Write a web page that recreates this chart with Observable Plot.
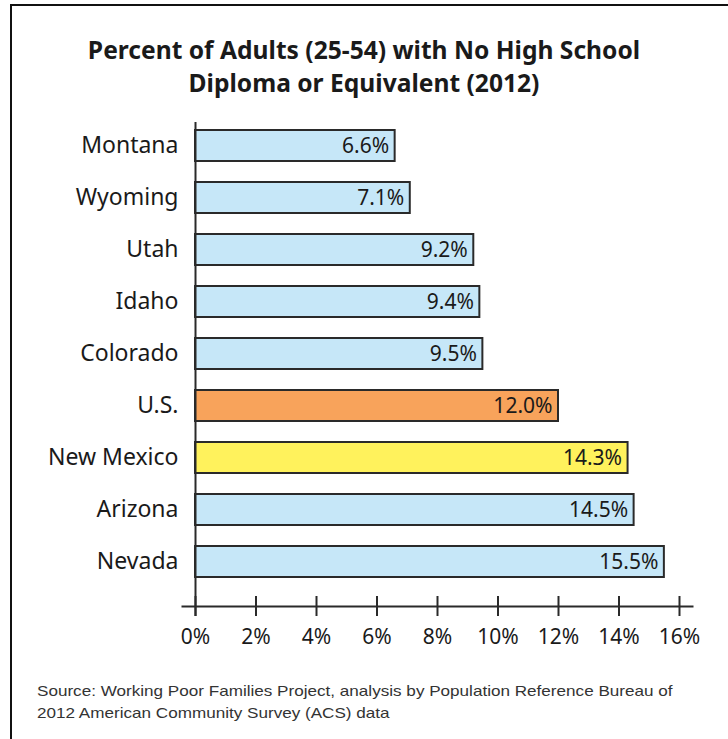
<!DOCTYPE html>
<html>
<head>
<meta charset="utf-8">
<script src="https://cdn.jsdelivr.net/npm/d3@7"></script>
<script src="https://cdn.jsdelivr.net/npm/@observablehq/plot@0.6"></script>
<style>
  html, body { margin: 0; padding: 0; background: #fff; }
  #wrap { position: relative; width: 728px; height: 739px; overflow: hidden; background: #fff; }
  #frame { position: absolute; left: 10px; top: 4px; width: 740px; height: 760px;
           border-left: 2.5px solid #111; border-top: 2.5px solid #111; box-sizing: border-box; }
  #title { position: absolute; left: 0; top: 33px; width: 728px; text-align: center;
           font-family: "Noto Sans", sans-serif; font-weight: bold; font-size: 24.6px;
           line-height: 33px; color: #1a1a1a; }
  #chart { position: absolute; left: 0; top: 110px; }
  #source { position: absolute; left: 37px; top: 680px; font-family: "Liberation Sans", Arial, sans-serif;
            font-size: 15px; line-height: 22px; color: #333; white-space: nowrap;
            transform: scaleX(1.14); transform-origin: 0 0; }
</style>
</head>
<body>
<div id="wrap">
  <div id="frame"></div>
  <div id="title">Percent of Adults (25-54) with No High School<br>Diploma or Equivalent (2012)</div>
  <div id="chart"></div>
  <div id="source">Source: Working Poor Families Project, analysis by Population Reference Bureau of<br>2012 American Community Survey (ACS) data</div>
</div>
<script>
const states = ["Montana", "Wyoming", "Utah", "Idaho", "Colorado", "U.S.", "New Mexico", "Arizona", "Nevada"];
const values = [6.6, 7.1, 9.2, 9.4, 9.5, 12.0, 14.3, 14.5, 15.5];
const groups = ["state", "state", "state", "state", "state", "nation", "highlight", "state", "state"];
const xTicks = [0, 2, 4, 6, 8, 10, 12, 14, 16];

const data = states.map((s, i) => ({state: s, value: values[i], group: groups[i]}));
const ink = "#2a2a2a";

const chart = Plot.plot({
  width: 728,
  height: 560,
  marginLeft: 182,
  marginRight: 36,
  marginTop: 12,
  marginBottom: 64,
  style: {fontFamily: "'Noto Sans', sans-serif", color: "#1a1a1a", background: "transparent"},
  x: {domain: [-0.43, 16.43]},
  y: {domain: states, paddingInner: 0.41, paddingOuter: 0.3146, align: 0.21},
  color: {domain: ["state", "nation", "highlight"], range: ["#c6e7f8", "#f8a35b", "#fff25c"]},
  marks: [
    Plot.barX(data, {x1: 0, x2: "value", y: "state", fill: "group", stroke: ink, strokeWidth: 2}),
    Plot.text(data, {x: "value", y: "state", text: d => d.value.toFixed(1) + "%",
      textAnchor: "end", dx: -6, fontSize: 21, fill: "#1a1a1a"}),
    Plot.ruleX([0], {stroke: ink, strokeWidth: 2, insetBottom: -10}),
    Plot.frame({anchor: "bottom", stroke: ink, strokeWidth: 2}),
    Plot.axisX({ticks: xTicks, tickSize: 20, dy: -10, tickFormat: () => "", stroke: ink, strokeWidth: 2, label: null}),
    Plot.axisX({ticks: xTicks, tickSize: 0, tickPadding: 23, tickFormat: d => d + "%", fontSize: 21, label: null}),
    Plot.axisY({tickSize: 0, tickPadding: 4, fontSize: 23, label: null})
  ]
});
document.getElementById("chart").appendChild(chart);
</script>
</body>
</html>
